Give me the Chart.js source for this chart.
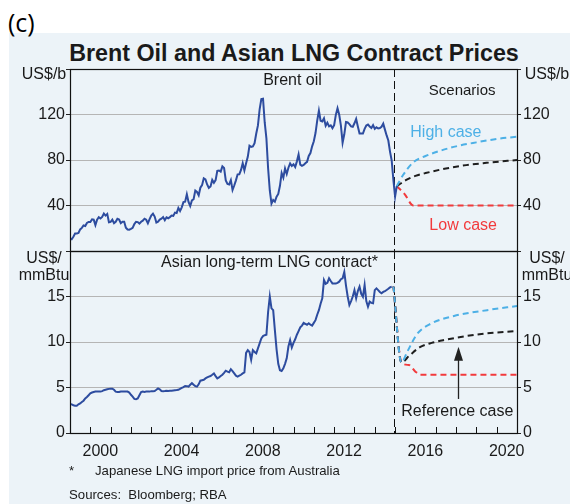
<!DOCTYPE html>
<html><head><meta charset="utf-8">
<script src="https://cdn.jsdelivr.net/npm/chart.js@4"></script>
<style>
body{margin:0;width:570px;height:504px;background:#fff;position:relative;overflow:hidden;font-family:"Liberation Sans",Arial,sans-serif;color:#1a1a1a;}
#panel{position:absolute;left:9px;top:33px;width:561px;height:471px;background:#ecf3f8;}
#lab{position:absolute;left:8px;top:7px;font-family:"Open Sans",sans-serif;font-size:25px;line-height:30px;color:#000;}
#title{position:absolute;left:60px;width:468px;top:40px;text-align:center;font-weight:bold;font-size:23.3px;line-height:26px;color:#1a1a1a;white-space:nowrap;}
.fn{position:absolute;font-size:13.2px;line-height:16px;white-space:pre;color:#1a1a1a;}
canvas{position:absolute;left:0;}
</style></head>
<body>
<div id="panel"></div>
<div id="lab">(c)</div>
<div id="title">Brent Oil and Asian LNG Contract Prices</div>
<canvas id="c1" width="570" height="200" style="top:60px;width:570px;height:200px"></canvas>
<canvas id="c2" width="570" height="230" style="top:241px;width:570px;height:230px"></canvas>
<div class="fn" style="left:69px;top:463px">*</div>
<div class="fn" style="left:95px;top:463px">Japanese LNG import price from Australia</div>
<div class="fn" style="left:69px;top:487px">Sources:  Bloomberg; RBA</div>
<script>
// ---------- DATA ----------
const startYear = 1999;            // monthly series start (January)
const forecastStart = 2014.93;     // dashed divider
const xTickYears = [1999,2000,2001,2002,2003,2004,2005,2006,2007,2008,2009,2010,2011,2012,2013,2014,2015,2016,2017,2018,2019,2020,2021];
const xLabelYears = [2000,2004,2008,2012,2016,2020];

// Brent oil, US$/b, monthly Jan 1999 – Feb 2015
const brentMonthly = [
 11.1,10.3,12.5,15.3,15.3,15.9,19.0,20.3,22.4,22.0,24.6,25.5,
 25.5,27.8,27.5,22.8,27.6,29.8,28.6,30.0,32.9,31.1,32.6,25.3,
 25.6,27.5,24.5,25.7,28.4,27.7,24.5,25.8,25.7,20.5,18.9,18.7,
 19.4,20.3,23.7,25.7,25.4,24.1,25.7,26.7,28.4,27.5,24.3,28.0,
 31.2,32.8,30.3,25.0,25.8,27.6,28.4,29.8,27.1,29.6,28.8,29.8,
 31.2,30.9,33.8,33.4,37.9,35.2,38.4,43.0,43.4,49.8,43.1,39.6,
 44.5,45.5,53.1,51.9,49.0,55.6,57.9,63.9,63.0,58.5,55.5,56.7,
 62.5,60.0,62.3,70.4,70.8,69.8,74.4,73.0,62.0,58.9,58.5,62.3,
 53.6,57.6,62.1,67.4,67.5,71.3,77.2,70.8,77.1,82.8,92.5,91.5,
 91.9,94.8,103.3,110.4,124.6,133.5,133.9,113.0,99.0,72.8,53.2,41.6,
 44.9,43.4,47.7,50.2,57.3,68.6,64.4,72.5,67.7,73.2,77.0,74.7,
 76.2,73.8,78.8,84.8,75.9,74.8,75.6,77.1,78.4,83.5,86.1,92.0,
 96.5,103.7,114.6,123.3,114.5,113.9,116.7,110.1,112.8,109.6,110.5,107.9,
 110.7,119.7,125.5,119.8,110.3,95.2,102.6,113.4,113.0,111.5,109.5,109.2,
 112.3,116.1,109.5,103.3,103.3,103.3,107.4,110.3,111.2,109.5,108.1,110.6,
 107.4,108.8,107.7,108.1,109.2,111.9,106.7,101.6,97.1,87.4,79.4,62.3,
 47.8,57.0
];
// Asian long-term LNG contract, US$/mmBtu, monthly Jan 1999 – Nov 2014
const lngMonthly = [
 3.2,3.15,3.05,3.0,3.0,3.15,3.25,3.4,3.55,3.8,3.95,4.15,
 4.35,4.45,4.5,4.55,4.55,4.55,4.55,4.6,4.7,4.75,4.8,4.85,
 4.87,4.87,4.75,4.55,4.5,4.5,4.55,4.55,4.55,4.55,4.55,4.45,
 4.2,4.0,3.75,3.72,3.8,4.15,4.5,4.55,4.52,4.55,4.55,4.55,
 4.6,4.6,4.62,4.75,4.9,4.8,4.62,4.6,4.62,4.65,4.62,4.65,
 4.65,4.68,4.7,4.72,4.75,4.85,4.95,5.05,5.17,5.15,5.1,5.3,
 5.47,5.3,5.15,5.1,5.35,5.75,5.8,5.85,6.0,6.1,6.2,6.26,
 6.4,6.55,6.25,6.0,6.1,6.26,6.4,6.6,6.85,6.75,6.67,7.0,
 6.8,6.55,6.3,6.2,6.3,6.4,6.55,6.65,8.8,9.1,8.9,8.05,
 9.1,8.9,8.75,9.3,9.85,10.4,10.65,10.75,10.8,13.3,15.0,13.7,
 13.5,11.3,9.2,7.6,6.9,6.81,7.1,7.6,8.2,9.5,10.2,9.4,
 9.9,10.3,10.8,11.2,11.6,11.8,12.1,12.0,11.9,12.05,11.9,11.8,
 12.1,12.4,13.0,13.5,14.2,14.8,16.8,16.4,16.5,17.0,16.7,16.44,
 16.44,16.44,16.5,16.63,16.9,17.0,17.7,16.2,15.0,14.07,14.5,15.0,
 15.71,14.8,15.6,16.08,15.3,14.98,16.26,14.5,13.88,14.43,14.3,14.25,
 15.7,15.89,15.7,15.5,15.35,15.5,15.6,15.71,15.85,16.0,16.08
];
// Scenarios – Brent (US$/b)
const brentHighX = [2015.08,2015.4,2015.9,2016.5,2017.2,2018,2019,2020,2021];
const brentHighY = [57,67,78,83.5,88,92,95.5,98.5,100.5];
const brentRefX  = [2015.08,2015.6,2016.0,2016.5,2017.5,2018.5,2019.5,2021];
const brentRefY  = [57,63,66,68.5,72.5,75.5,77.5,80];
const brentLowX  = [2015.08,2015.45,2015.9,2021];
const brentLowY  = [57,50.5,40,40];
// Scenarios – LNG (US$/mmBtu)
const lngHighX = [2014.92,2015.31,2015.6,2016.09,2016.75,2017.9,2019.53,2021];
const lngHighY = [16.1,7.75,8.94,10.9,12.0,12.86,13.5,13.96];
const lngRefX  = [2014.92,2015.31,2015.7,2016.2,2016.8,2017.5,2018.5,2019.5,2021];
const lngRefY  = [16.1,7.75,8.5,9.4,9.9,10.25,10.65,10.95,11.2];
const lngLowX  = [2014.92,2015.31,2015.68,2016.0,2016.25,2021];
const lngLowY  = [16.1,7.75,7.47,6.74,6.4,6.4];

// ---------- STYLE ----------
const FONT = '"Liberation Sans", Arial, sans-serif';
const C_MAIN = '#2d4c9f', C_HIGH = '#4db0e6', C_REF = '#1e1e1e', C_LOW = '#f23a3c';
const GRID = '#b5b5b5';

const monthly = (arr) => arr.map((v,i)=>({x:startYear + i/12, y:v}));
const pairs = (xs, ys) => xs.map((x,i)=>({x, y:ys[i]}));
const scen = (data, color) => ({data, borderColor:color, borderWidth:2, borderDash:[6,4], pointRadius:0, cubicInterpolationMode:'monotone', fill:false});
const main = (data) => ({data, borderColor:C_MAIN, borderWidth:2, pointRadius:0, tension:0, fill:false});

const fixY = (w) => (s) => { s.width = w; s.paddingTop = 0; s.paddingBottom = 0; };

const notesPlugin = {
  id:'notes',
  beforeDatasetsDraw(chart){
    const {ctx, chartArea:a, scales} = chart;
    const xv = Math.round(scales.x.getPixelForValue(forecastStart)) + 0.5;
    ctx.save();
    ctx.strokeStyle = '#111'; ctx.lineWidth = 1; ctx.setLineDash([8,4]);
    ctx.beginPath(); ctx.moveTo(xv, a.top); ctx.lineTo(xv, a.bottom); ctx.stroke();
    ctx.restore();
  },
  afterDraw(chart, args, opts){
    const {ctx, chartArea:a, scales} = chart;
    ctx.save();
    // frame
    ctx.strokeStyle = '#111'; ctx.lineWidth = 1.2; ctx.setLineDash([]);
    ctx.strokeRect(Math.round(a.left)+0.5, Math.round(a.top)+0.5, Math.round(a.right-a.left), Math.round(a.bottom-a.top));
    // x tick marks (inside, pointing up)
    if (opts.xTicks) {
      ctx.lineWidth = 1;
      xTickYears.forEach(v => {
        const px = Math.round(scales.x.getPixelForValue(v)) + 0.5;
        ctx.beginPath(); ctx.moveTo(px, a.bottom); ctx.lineTo(px, a.bottom - 6); ctx.stroke();
      });
    }
    // unit labels
    ctx.fillStyle = '#1a1a1a'; ctx.textAlign = 'center'; ctx.textBaseline = 'middle';
    ctx.font = '16px ' + FONT;
    (opts.units || []).forEach((u, k) => {
      const y = a.top + u.dy;
      ctx.fillText(u.text, a.left - 26, y);
      ctx.fillText(u.text, a.right + 30, y);
    });
    // text notes
    (opts.texts || []).forEach(t => {
      ctx.font = (t.size || 16) + 'px ' + FONT;
      ctx.fillStyle = t.color || '#1a1a1a';
      ctx.textAlign = 'center';
      ctx.fillText(t.text, scales.x.getPixelForValue(t.x), scales.y.getPixelForValue(t.y));
    });
    // arrow
    if (opts.arrow) {
      const ar = opts.arrow;
      const px = Math.round(scales.x.getPixelForValue(ar.x)) + 0.5;
      const y0 = scales.y.getPixelForValue(ar.y0), y1 = scales.y.getPixelForValue(ar.y1);
      ctx.strokeStyle = '#222'; ctx.fillStyle = '#222'; ctx.lineWidth = 1.3;
      ctx.beginPath(); ctx.moveTo(px, y0); ctx.lineTo(px, y1 + 10); ctx.stroke();
      ctx.beginPath(); ctx.moveTo(px, y1); ctx.lineTo(px - 4.5, y1 + 14); ctx.lineTo(px + 4.5, y1 + 14); ctx.closePath(); ctx.fill();
    }
    ctx.restore();
  }
};

function yAxes(min, max, step, hide, w) {
  const tickFont = {family: FONT, size: 16};
  const cb = (v) => hide.includes(v) ? '' : String(v);
  return {
    y: {position:'left', min, max, afterFit: fixY(70),
        ticks:{stepSize:step, callback:cb, font:tickFont, color:'#1a1a1a', padding:1},
        grid:{color:GRID, lineWidth:1, tickLength:4, tickColor:'#222'}, border:{display:false}},
    y2:{position:'right', min, max, afterFit: fixY(53),
        ticks:{stepSize:step, callback:cb, font:tickFont, color:'#1a1a1a', padding:2},
        grid:{drawOnChartArea:false, tickLength:4, tickColor:'#222'}, border:{display:false}}
  };
}

Chart.defaults.font.family = FONT;

// ---------- TOP: Brent ----------
new Chart(document.getElementById('c1'), {
  type:'line',
  data:{datasets:[
    main(monthly(brentMonthly)),
    scen(pairs(brentHighX, brentHighY), C_HIGH),
    scen(pairs(brentRefX, brentRefY), C_REF),
    scen(pairs(brentLowX, brentLowY), C_LOW)
  ]},
  options:{
    responsive:false, devicePixelRatio:1, animation:false,
    layout:{padding:{top:9, bottom:9, left:0, right:0}},
    plugins:{legend:{display:false}, tooltip:{enabled:false},
      notes:{
        units:[{text:'US$/b', dy:6}],
        texts:[
          {text:'Brent oil', x:2009.95, y:149.7},
          {text:'Scenarios', x:2018.3, y:140.5, size:15},
          {text:'High case', x:2017.5, y:103.7, color:C_HIGH},
          {text:'Low case', x:2018.35, y:22.2, color:C_LOW}
        ]
      }},
    scales:Object.assign({
      x:{type:'linear', min:1999, max:2021, display:false}
    }, yAxes(0, 160, 40, [0,160]))
  },
  plugins:[notesPlugin]
});

// ---------- BOTTOM: LNG ----------
new Chart(document.getElementById('c2'), {
  type:'line',
  data:{datasets:[
    main(monthly(lngMonthly)),
    scen(pairs(lngHighX, lngHighY), C_HIGH),
    scen(pairs(lngRefX, lngRefY), C_REF),
    scen(pairs(lngLowX, lngLowY), C_LOW)
  ]},
  options:{
    responsive:false, devicePixelRatio:1, animation:false,
    layout:{padding:{top:10, bottom:8, left:0, right:0}},
    plugins:{legend:{display:false}, tooltip:{enabled:false},
      notes:{
        xTicks:true,
        units:[{text:'US$/', dy:8},{text:'mmBtu', dy:25}],
        texts:[
          {text:'Asian long-term LNG contract*', x:2008.82, y:18.71},
          {text:'Reference case', x:2018.06, y:2.34}
        ],
        arrow:{x:2018.12, y0:3.74, y1:9.48}
      }},
    scales:Object.assign({
      x:{type:'linear', min:1999, max:2021,
         afterFit:(s)=>{ s.height = 30; s.paddingLeft = 0; s.paddingRight = 0; },
         afterBuildTicks:(s)=>{ s.ticks = xTickYears.map(v=>({value:v})); },
         ticks:{autoSkip:false, maxRotation:0, padding:9, labelOffset:10,
                font:{family:FONT, size:16}, color:'#1a1a1a',
                callback:(v)=> xLabelYears.includes(v) ? String(v) : ''},
         grid:{display:false, drawTicks:false}, border:{display:false}}
    }, yAxes(0, 20, 5, [20]))
  },
  plugins:[notesPlugin]
});
</script>
</body></html>
